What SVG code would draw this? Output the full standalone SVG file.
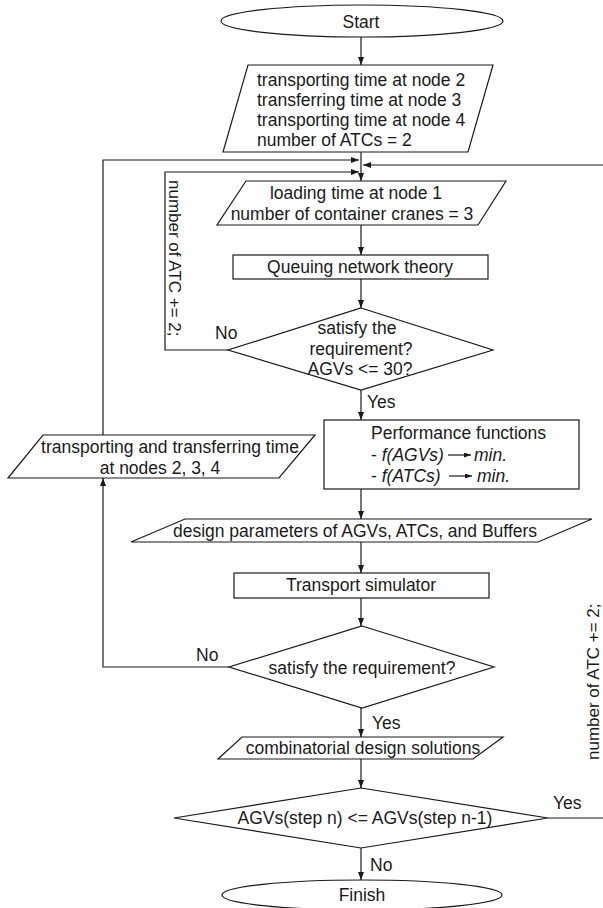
<svg xmlns="http://www.w3.org/2000/svg" width="603" height="908" viewBox="0 0 603 908">
<style>
.s{fill:none;stroke:#1a1a1a;stroke-width:1.2}
.n{fill:#fff;stroke:#1a1a1a;stroke-width:1.2}
text{font-family:"Liberation Sans",Arial,sans-serif;font-size:17.5px;fill:#1a1a1a}
.m{text-anchor:middle}
.i{font-style:italic}
.r{font-size:17px}
</style>
<defs>
<marker id="a" markerWidth="8" markerHeight="6" refX="8" refY="3" orient="auto" markerUnits="userSpaceOnUse"><path d="M0,0L8,3L0,6z" fill="#1a1a1a"/></marker>
<marker id="b" markerWidth="7" markerHeight="5" refX="7" refY="2.5" orient="auto" markerUnits="userSpaceOnUse"><path d="M0,0L7,2.5L0,5z" fill="#1a1a1a"/></marker>
</defs>
<rect width="603" height="908" fill="#fff"/>
<g id="connectors">
<path class="s" d="M361,37V65" marker-end="url(#a)"/>
<path class="s" d="M361,152V181" marker-end="url(#a)"/>
<path class="s" d="M229,667H103V478" marker-end="url(#a)"/>
<path class="s" d="M103,435V160H359" marker-end="url(#a)"/>
<path class="s" d="M228,350H165V172H359" marker-end="url(#a)"/>
<path class="s" d="M603,165H363" marker-end="url(#a)"/>
<path class="s" d="M548,818H603"/>
<path class="s" d="M361,225V255" marker-end="url(#a)"/>
<path class="s" d="M361,279V308" marker-end="url(#a)"/>
<path class="s" d="M361,390V420" marker-end="url(#a)"/>
<path class="s" d="M361,489V519" marker-end="url(#a)"/>
<path class="s" d="M361,542V573" marker-end="url(#a)"/>
<path class="s" d="M361,598V626" marker-end="url(#a)"/>
<path class="s" d="M361,708V737" marker-end="url(#a)"/>
<path class="s" d="M361,759V788" marker-end="url(#a)"/>
<path class="s" d="M361,848V880" marker-end="url(#a)"/>
<text x="215" y="339">No</text>
<text x="367" y="408">Yes</text>
<text x="196" y="661">No</text>
<text x="372" y="729">Yes</text>
<text x="553" y="809">Yes</text>
<text x="370" y="871">No</text>
<text class="r" transform="translate(169,180) rotate(90)">number of ATC += 2;</text>
<text class="r" transform="translate(599,760) rotate(-90)">number of ATC += 2;</text>
</g>
<g id="start">
<ellipse class="n" cx="362" cy="21" rx="141" ry="16"/>
<text class="m" x="361" y="28">Start</text>
</g>
<g id="input1">
<polygon class="n" points="248,65 493,65 468,152 223,152"/>
<text x="257" y="86">transporting time at node 2</text>
<text x="257" y="106">transferring time at node 3</text>
<text x="257" y="126">transporting time at node 4</text>
<text x="257" y="146">number of ATCs = 2</text>
</g>
<g id="input2">
<polygon class="n" points="246,181 506,181 478,225 217,225"/>
<text class="m" x="356" y="199">loading time at node 1</text>
<text class="m" x="352" y="220">number of container cranes = 3</text>
</g>
<g id="queuing">
<rect class="n" x="233" y="255" width="255" height="24"/>
<text class="m" x="360" y="273">Queuing network theory</text>
</g>
<g id="decision1">
<polygon class="n" points="361,308 493,350 361,390 228,350"/>
<text class="m" x="357" y="334">satisfy the</text>
<text class="m" x="361" y="355">requirement?</text>
<text class="m" x="360" y="375">AGVs &lt;= 30?</text>
</g>
<g id="feedback">
<polygon class="n" points="43,435 315,435 279,478 8,478"/>
<text class="m" x="170" y="453">transporting and transferring time</text>
<text class="m" x="160" y="474">at nodes 2, 3, 4</text>
</g>
<g id="performance">
<rect class="n" x="324" y="420" width="255" height="69"/>
<text x="371" y="439">Performance functions</text>
<text x="371" y="461">- <tspan class="i">f(AGVs)</tspan></text>
<line class="s" x1="448" y1="455" x2="471" y2="455" marker-end="url(#b)"/>
<text class="i" x="474" y="461">min.</text>
<text x="371" y="482">- <tspan class="i">f(ATCs)</tspan></text>
<line class="s" x1="449" y1="476" x2="472" y2="476" marker-end="url(#b)"/>
<text class="i" x="477" y="482">min.</text>
</g>
<g id="design">
<polygon class="n" points="185,519 592,519 538,542 131,542"/>
<text class="m" x="355" y="537">design parameters of AGVs, ATCs, and Buffers</text>
</g>
<g id="simulator">
<rect class="n" x="234" y="573" width="255" height="25"/>
<text class="m" x="361" y="591">Transport simulator</text>
</g>
<g id="decision2">
<polygon class="n" points="362,626 494,667 362,708 229,667"/>
<text class="m" x="362" y="674">satisfy the requirement?</text>
</g>
<g id="solutions">
<polygon class="n" points="242,737 503,737 473,759 218,759"/>
<text class="m" x="363" y="754">combinatorial design solutions</text>
</g>
<g id="decision3">
<polygon class="n" points="361,788 548,818 361,848 174,818"/>
<text class="m" x="365" y="824">AGVs(step n) &lt;= AGVs(step n-1)</text>
</g>
<g id="finish">
<ellipse class="n" cx="362" cy="895" rx="140" ry="15"/>
<text class="m" x="362" y="901">Finish</text>
</g>
</svg>
